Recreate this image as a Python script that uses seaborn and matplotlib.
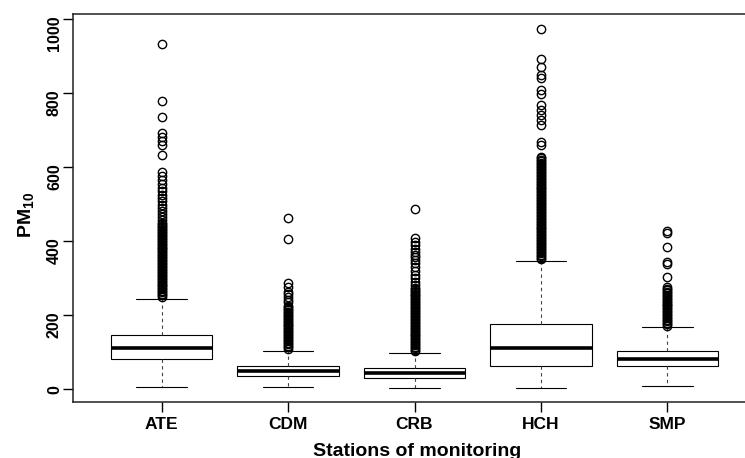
import numpy as np
import pandas as pd
import matplotlib
matplotlib.use("Agg")
import matplotlib.pyplot as plt
import matplotlib.transforms as mtransforms
import seaborn as sns

# box summaries (PM10, per monitoring station)
stations = ["ATE", "CDM", "CRB", "HCH", "SMP"]
lower_whisker = [6, 6, 5, 5, 8]
q1 = [83, 35, 31, 63, 62]
median = [112, 49, 43, 113, 82]
q3 = [148, 64, 59, 177, 105]
upper_whisker = [245, 105, 99, 348, 169]

# outliers (dense runs are drawn as solid columns)
ate_out = [250, 254, 258, 262, 266, 270, 274, 278, 282, 286, 290, 294, 298, 302,
           306, 310, 314, 318, 322, 326, 330, 334, 338, 342, 346, 350, 354, 358,
           362, 366, 370, 374, 378, 382, 386, 390, 394, 398, 402, 406, 410, 414,
           418, 422, 426, 430, 434, 438, 442, 446, 450,
           458, 466, 474, 482, 490, 499, 508, 517, 526, 535, 545, 555, 566, 577,
           588, 633, 660, 672, 683, 692, 735, 780, 932]
cdm_out = [110, 114, 118, 122, 126, 130, 134, 138, 142, 146, 150, 154, 158, 162,
           166, 170, 174, 178, 182, 186, 190, 194, 198, 202, 206, 210, 214, 218,
           222, 226, 236, 241, 250, 258, 264, 277, 288, 405, 462]
crb_out = [103, 107, 111, 115, 119, 123, 127, 131, 135, 139, 143, 147, 151, 155,
           159, 163, 167, 171, 175, 179, 183, 187, 191, 195, 199, 203, 207, 211,
           215, 219, 223, 227, 231, 235, 239, 243, 247, 251, 255, 259, 263, 267,
           271, 275, 283, 291, 300, 309, 320, 331, 342, 349, 357, 363, 372, 379,
           390, 399, 408, 486]
hch_out = [352, 356, 360, 364, 368, 372, 376, 380, 384, 388, 392, 396, 400, 404,
           408, 412, 416, 420, 424, 428, 432, 436, 440, 444, 448, 452, 456, 460,
           464, 468, 472, 476, 480, 484, 488, 492, 496, 500, 504, 508, 512, 516,
           520, 524, 528, 532, 536, 540, 544, 548, 552, 556, 560, 564, 568, 572,
           576, 580, 584, 588, 592, 596, 600, 604, 608, 612, 616, 620, 624, 628,
           660, 669, 714, 728, 741, 755, 768, 798, 809, 840, 850, 872, 892, 974]
smp_out = [172, 176, 180, 184, 188, 192, 196, 200, 204, 208, 212, 216, 220, 224,
           228, 232, 236, 240, 244, 248, 252, 256, 260, 264, 268, 272, 277, 303,
           339, 345, 386, 422, 429]
outliers = [ate_out, cdm_out, crb_out, hch_out, smp_out]

# rebuild a sample with exactly these quartiles so seaborn draws the same boxes
K = 300
frames = []
for i, s in enumerate(stations):
    vals = ([lower_whisker[i]] + [q1[i]] * K + [median[i]] * K + [q3[i]] * K
            + [upper_whisker[i]] + outliers[i])
    frames.append(pd.DataFrame({"station": s, "pm10": vals}))
data = pd.concat(frames, ignore_index=True)

sns.set_theme(style="ticks")
plt.rcParams["font.family"] = ["Liberation Sans", "DejaVu Sans"]
plt.rcParams["text.color"] = "black"
plt.rcParams["xtick.color"] = "black"
plt.rcParams["ytick.color"] = "black"
plt.rcParams["mathtext.fontset"] = "custom"
plt.rcParams["mathtext.bf"] = "Liberation Sans:bold"
plt.rcParams["mathtext.rm"] = "Liberation Sans:bold"

fig = plt.figure(figsize=(7.45, 4.58), dpi=100)
ax = fig.add_axes([73 / 745, 1 - 402 / 458, (756 - 73) / 745, (402 - 14) / 458])

sns.boxplot(data=data, x="station", y="pm10", order=stations, ax=ax,
            color="white", linecolor="black", linewidth=0.8, width=0.8, whis=1.5,
            medianprops=dict(linewidth=2.6, color="black"),
            whiskerprops=dict(linestyle=(0, (3, 3)), linewidth=0.8, color="#444444"),
            capprops=dict(linewidth=0.8, color="black"),
            flierprops=dict(marker="o", markersize=6, markerfacecolor="none",
                            markeredgecolor="black", markeredgewidth=1.0))

ax.set_xlim(-0.7, 4.7)
ax.set_ylim(-34, 1014)
ax.set_yticks([0, 200, 400, 600, 800, 1000])
ax.set_xlabel("")
ax.set_ylabel("")

for side in ["left", "top", "bottom"]:
    ax.spines[side].set_linewidth(1.1)
    ax.spines[side].set_color("#222222")
ax.spines["right"].set_visible(False)

ax.tick_params(axis="y", length=7, width=1, pad=1, labelsize=11.5)
ax.tick_params(axis="x", length=7, width=1, pad=4, labelsize=12.5)

# y labels run upward and end just above their tick, as in the reference
shift = mtransforms.ScaledTranslation(0, 3 / 72, fig.dpi_scale_trans)
for tick in ax.yaxis.get_major_ticks():
    lab = tick.label1
    lab.set_rotation(90)
    lab.set_va("top")
    lab.set_fontweight("bold")
    lab.set_transform(lab.get_transform() + shift)
for lab in ax.get_xticklabels():
    lab.set_fontweight("bold")
    lab.set_family(["Liberation Sans Narrow", "Liberation Sans"])

fig.text(417 / 745, 2.5 / 458, "Stations of monitoring", ha="center", va="baseline",
         fontsize=14, fontweight="bold")
fig.text(27 / 745, 1 - 215 / 458, r"PM$_{\mathbf{10}}$", ha="center", va="center",
         rotation=90, fontsize=14, fontweight="bold")

fig.savefig("out.png", dpi=100)
